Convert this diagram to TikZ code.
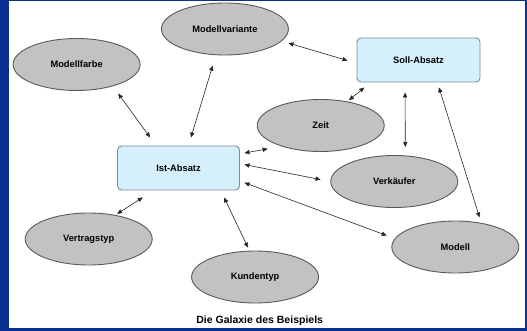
\documentclass[tikz,border=0pt]{standalone}
\usepackage{fontspec}
\setmainfont{Liberation Sans}
\usetikzlibrary{shapes.geometric,arrows.meta}
\definecolor{bgblue}{HTML}{0A3192}
\definecolor{ellfill}{HTML}{C2C2C2}
\definecolor{ellline}{HTML}{5A5A5A}
\definecolor{boxfill}{HTML}{D6EFFC}
\definecolor{boxline}{HTML}{7A8CA0}
\tikzset{
  ell/.style={ellipse, draw=ellline, line width=0.9pt, fill=ellfill,
    minimum width=127pt, minimum height=52pt, inner sep=0pt,
    font=\bfseries\fontsize{9.3}{11}\selectfont},
  box/.style={rectangle, rounded corners=4pt, draw=boxline, line width=0.9pt, fill=boxfill,
    minimum height=44pt, inner sep=0pt,
    font=\bfseries\fontsize{9.3}{11}\selectfont},
  link/.style={draw=black!85, line width=0.6pt,
    {Triangle[length=5pt,width=4.2pt]}-{Triangle[length=5pt,width=4.2pt]}},
}
\begin{document}
\begin{tikzpicture}[x=1pt,y=-1pt]
\fill[bgblue] (0,0) rectangle (527,331);
\fill[white] (8.7,1) rectangle (524.5,327.7);
\useasboundingbox (0,0) rectangle (527,331);

\node[ell] (mv) at (224.9,29) {Modellvariante};
\node[ell] (mf) at (76.6,64.5) {Modellfarbe};
\node[ell] (zeit) at (320.7,125.5) {Zeit};
\node[ell] (verk) at (394.3,181.5) {Verkäufer};
\node[ell] (modell) at (455.3,247) {Modell};
\node[ell] (vt) at (88.7,239) {Vertragstyp};
\node[ell] (kt) at (255.1,277) {Kundentyp};

\node[box, minimum width=122pt] (ist) at (178.5,168) {Ist-Absatz};
\node[box, minimum width=123pt] (soll) at (418.5,60) {Soll-Absatz};

\node[font=\bfseries\fontsize{10.5}{12}\selectfont] (cap) at (259.7,321) {Die Galaxie des Beispiels};

\draw[link, shorten <=9pt, shorten >=10pt] (mf.-31) -- (ist.135);
\draw[link, shorten <=11pt, shorten >=8.4pt] (mv.-109) -- (ist.66);
\draw[link, shorten <=7pt, shorten >=9.4pt] (mv.-12) -- (soll.183);
\draw[link, shorten <=7.9pt, shorten >=2pt] (soll.-155) -- (zeit.42);
\draw[link, shorten <=10pt, shorten >=8.4pt] (soll.-121) -- (verk.67);
\draw[link, shorten <=5.2pt, shorten >=5.6pt] (soll.-50) -- (modell.43);
\draw[link, shorten <=4.6pt, shorten >=14pt] (ist.13) -- (zeit.-152);
\draw[link, shorten <=4.6pt, shorten >=10pt] (ist.4) -- (verk.180);
\draw[link, shorten <=4.8pt, shorten >=8.6pt] (ist.-12) -- (modell.172);
\draw[link, shorten <=12.8pt, shorten >=2pt] (ist.-138) -- (vt.42);
\draw[link, shorten <=7.8pt, shorten >=3.3pt] (ist.-28) -- (kt.102);
\end{tikzpicture}
\end{document}
